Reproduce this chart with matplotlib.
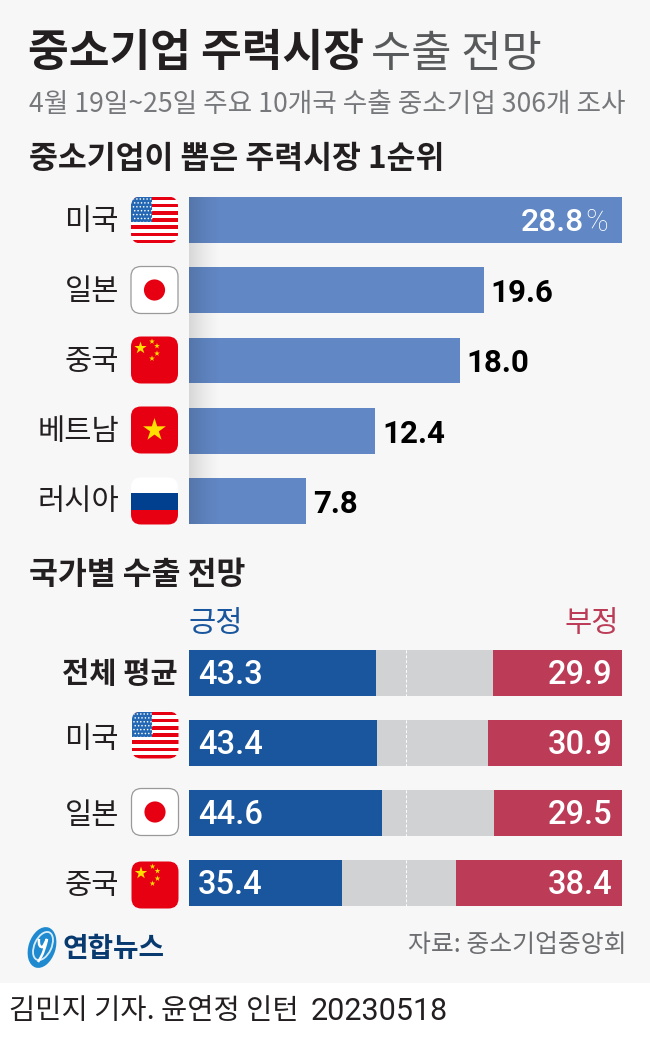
"""
연합뉴스 그래픽 : 중소기업 주력시장 수출 전망
"""

import numpy as np
import matplotlib

matplotlib.use("Agg")
import matplotlib.pyplot as plt
from matplotlib.patches import Circle, Ellipse, FancyBboxPatch, PathPatch, Rectangle
from matplotlib.path import Path

plt.rcParams["font.family"] = ["Noto Sans CJK KR", "DejaVu Sans"]

W, H = 650, 1041

market_names = ["미국", "일본", "중국", "베트남", "러시아"]
market_flags = ["us", "jp", "cn", "vn", "ru"]
market_share = [28.8, 19.6, 18.0, 12.4, 7.8]

outlook_names = ["전체 평균", "미국", "일본", "중국"]
outlook_flags = [None, "us", "jp", "cn"]
positive = [43.3, 43.4, 44.6, 35.4]
negative = [29.9, 30.9, 29.5, 38.4]

BG = "#f7f7f7"
TXT = "#231f20"
BAR = "#6187c4"
BLUE = "#19569d"
RED = "#bc3c58"
GREY = "#d1d2d4"
FLAG_RED = "#e60012"
NUM_FONT = ["Roboto", "DejaVu Sans"]


def px_axes(fig, left, top, right, bottom):
    """Axes placé en pixels de l'image."""
    return fig.add_axes([left / W, 1 - bottom / H, (right - left) / W, (bottom - top) / H])


def star(ax, cx, cy, r, color, clip, rot=0.0):
    ang = np.radians(np.arange(10) * 36 - 90 + rot)
    rad = np.where(np.arange(10) % 2 == 0, r, r * 0.38)
    pts = np.c_[cx + rad * np.cos(ang), cy + rad * np.sin(ang)]
    p = ax.fill(pts[:, 0], pts[:, 1], color=color, lw=0, zorder=5)[0]
    p.set_clip_path(clip)


def draw_flag(ax, code, cx, cy, size=47):
    x0, y0 = cx - size / 2, cy - size / 2
    pad = 9
    base = FancyBboxPatch(
        (x0 + pad, y0 + pad),
        size - 2 * pad,
        size - 2 * pad,
        boxstyle=f"round,pad={pad},rounding_size={pad + 1}",
        fc="white",
        ec="none",
        zorder=3,
    )
    ax.add_patch(base)

    def rect(x, y, w, h, color, z=4):
        r = Rectangle((x, y), w, h, fc=color, ec="none", zorder=z)
        ax.add_patch(r)
        r.set_clip_path(base)

    if code == "us":
        stripe = size / 13
        for i in range(0, 13, 2):
            rect(x0, y0 + i * stripe, size, stripe, FLAG_RED)
        rect(x0, y0, size * 0.44, stripe * 7, "#2468b4", 5)
        for row in range(7):
            for col in range(6):
                dot = Circle(
                    (x0 + 2.5 + col * 3.4 + (row % 2) * 1.2, y0 + 2.5 + row * 3.9),
                    0.8,
                    fc="white",
                    ec="none",
                    zorder=6,
                )
                ax.add_patch(dot)
                dot.set_clip_path(base)
    elif code == "jp":
        base.set_edgecolor("#9a9a9a")
        base.set_linewidth(0.9)
        ax.add_patch(Circle((cx, cy), size * 0.225, fc=FLAG_RED, ec="none", zorder=5))
    elif code == "cn":
        base.set_facecolor(FLAG_RED)
        star(ax, x0 + 9.5, y0 + 11.5, 6.5, "#ffe000", base)
        for dx, dy in [(21, 5), (26, 9.5), (26, 17), (21, 22)]:
            star(ax, x0 + dx, y0 + dy, 3, "#ffe000", base)
    elif code == "vn":
        base.set_facecolor(FLAG_RED)
        star(ax, cx, cy, 12, "#ffe000", base)
    elif code == "ru":
        rect(x0, y0 + size * 0.32, size, size * 0.38, "#00408f")
        rect(x0, y0 + size * 0.70, size, size * 0.30, FLAG_RED)


fig = plt.figure(figsize=(W / 100, H / 100), dpi=100, facecolor="white")

# Fond en pixels
back = px_axes(fig, 0, 0, W, H)
back.set_xlim(0, W)
back.set_ylim(H, 0)
back.axis("off")
back.add_patch(Rectangle((0, 0), W, 983, fc=BG, ec="none"))

# Graphique 1 : part par pays
ax1 = px_axes(fig, 189, 185, 622, 536)
ax1.patch.set_alpha(0)
ax1.axis("off")
ax1.set_xlim(0, max(market_share))
ypos1 = np.arange(len(market_names))
ax1.set_ylim(ypos1[-1] + 0.5, -0.5)
ax1.barh(ypos1, market_share, height=46 / 70.25, color=BAR, edgecolor="none")

# Graphique 2 : positif / négatif
ax2 = px_axes(fig, 189, 637.5, 622, 918.5)
ax2.patch.set_alpha(0)
ax2.axis("off")
ax2.set_xlim(0, 100)
ypos2 = np.arange(len(outlook_names))
ax2.set_ylim(ypos2[-1] + 0.5, -0.5)
h2 = 46 / 70.3
ax2.barh(ypos2, [100] * 4, height=h2, color=GREY, edgecolor="none")
ax2.barh(ypos2, positive, height=h2, color=BLUE, edgecolor="none")
ax2.barh(ypos2, negative, left=[100 - v for v in negative], height=h2, color=RED, edgecolor="none")
for y in ypos2:
    ax2.plot([50, 50], [y - h2 / 2, y + h2 / 2], color="white", lw=0.7, ls=(0, (3, 2)))
for y, p, n in zip(ypos2, positive, negative):
    ax2.text(2.1, y + 0.03, f"{p:.1f}", color="white", family=NUM_FONT, fontsize=23.5, fontweight="medium", ha="left", va="center")
    ax2.text(97.7, y + 0.03, f"{n:.1f}", color="white", family=NUM_FONT, fontsize=23.5, fontweight="medium", ha="right", va="center")

# Étiquettes du graphique 1
for y, v in zip(ypos1, market_share):
    if y == 0:
        ax1.text(v - 0.92, y + 0.04, "%", color="white", family=NUM_FONT, fontsize=22, fontweight="light", ha="right", va="center")
        ax1.text(v - 2.55, y + 0.04, f"{v:.1f}", color="white", family=NUM_FONT, fontsize=23, fontweight="medium", ha="right", va="center")
    else:
        ax1.text(v + 0.45, y + 0.04, f"{v:.1f}", color="black", family=NUM_FONT, fontsize=22.5, fontweight="bold", ha="left", va="center")

# Couche du dessus : textes, drapeaux, ombre
top = px_axes(fig, 0, 0, W, H)
top.patch.set_alpha(0)
top.set_xlim(0, W)
top.set_ylim(H, 0)
top.axis("off")

shade = np.zeros((2, 64, 4))
shade[..., 3] = np.linspace(1, 0, 64)[None, :] ** 1.4 * 0.13
top.imshow(shade, extent=(189, 222, 524, 197), aspect="auto", zorder=2, interpolation="bilinear")
top.set_xlim(0, W)
top.set_ylim(H, 0)

top.text(28, 53, "중소기업 주력시장", fontsize=31.9, fontweight="bold", color=TXT, ha="left", va="center")
top.text(371, 54, "수출 전망", fontsize=31.5, color="#58595b", ha="left", va="center")
top.text(29, 105, "4월 19일~25일 주요 10개국 수출 중소기업 306개 조사", fontsize=19.2, color="#77787b", ha="left", va="center")
top.text(29, 159, "중소기업이 뽑은 주력시장 1순위", fontsize=22.6, fontweight="bold", color=TXT, ha="left", va="center")
top.text(29, 575, "국가별 수출 전망", fontsize=22.6, fontweight="bold", color=TXT, ha="left", va="center")
top.text(189, 624, "긍정", fontsize=21.3, color=BLUE, ha="left", va="center")
top.text(619, 624, "부정", fontsize=21.3, color=RED, ha="right", va="center")

ys1 = [220, 290, 360, 430, 501]
for name, code, y in zip(market_names, market_flags, ys1):
    top.text(119, y + 1, name, fontsize=21.3, color=TXT, ha="right", va="center")
    draw_flag(top, code, 154.5, y)

ys2 = [672, 735, 812, 885]
label_ys2 = [674, 739, 815, 886]
for name, code, y, ly in zip(outlook_names, outlook_flags, ys2, label_ys2):
    if code is None:
        top.text(178, ly, name, fontsize=21.3, fontweight="bold", color=TXT, ha="right", va="center")
    else:
        top.text(119, ly, name, fontsize=21.3, color=TXT, ha="right", va="center")
        draw_flag(top, code, 155, y)

# Logo
top.add_patch(Ellipse((42, 947.5), 27, 42, angle=18, fc="#1f8ad0", ec="none", zorder=3))
top.add_patch(Ellipse((43, 946), 17, 30, angle=25, fc="none", ec="#d9edf8", lw=1.3, zorder=4))
mark = Path(
    [(39, 939), (38, 948), (43, 947), (47, 939), (45, 950), (41, 957), (38, 962)],
    [Path.MOVETO, Path.CURVE3, Path.CURVE3, Path.LINETO, Path.CURVE3, Path.CURVE3, Path.LINETO],
)
top.add_patch(PathPatch(mark, fc="none", ec="white", lw=1.8, zorder=5))
top.text(63, 949, "연합뉴스", fontsize=20, fontweight="bold", color="#083a70", ha="left", va="center")

top.text(626, 945, "자료: 중소기업중앙회", fontsize=17.9, color="#6d6e71", ha="right", va="center")
top.text(9, 1011, "김민지 기자. 윤연정 인턴", fontsize=20.5, color=TXT, ha="left", va="center")
top.text(311, 1012, "20230518", family=NUM_FONT, fontsize=22, color=TXT, ha="left", va="center")

fig.savefig("out.png", dpi=100, facecolor="white")
